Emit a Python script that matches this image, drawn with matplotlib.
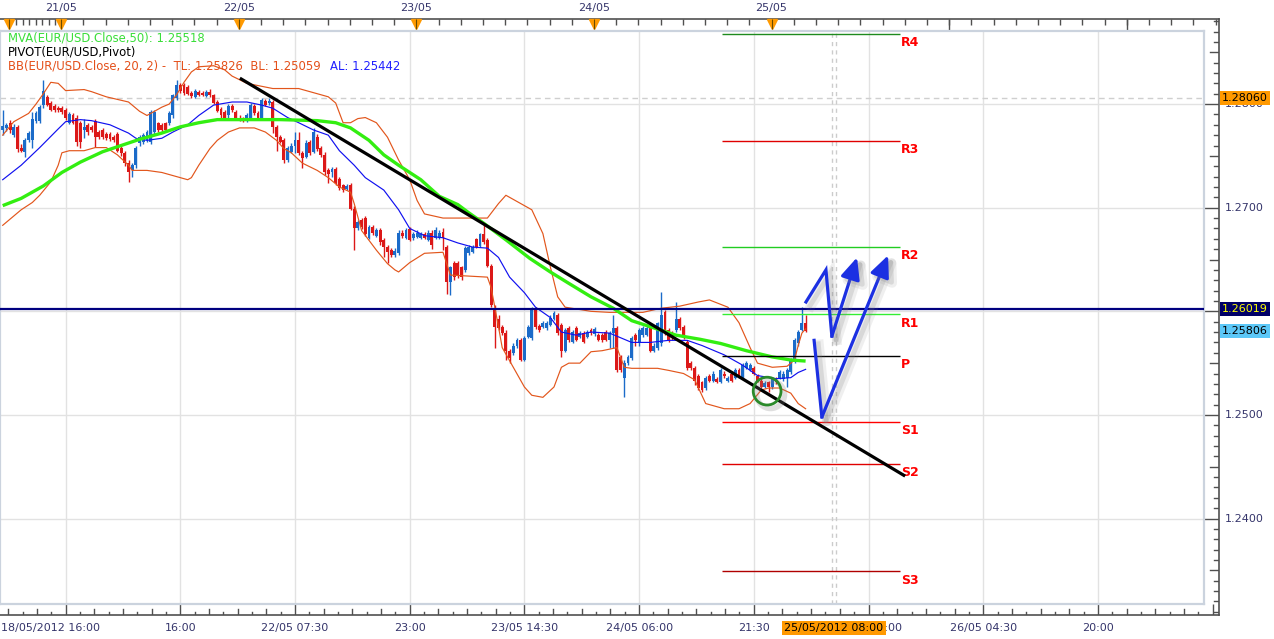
import numpy as np
import matplotlib
matplotlib.use("Agg")
import matplotlib.pyplot as plt
import matplotlib.patheffects as pe

plt.rcParams['font.family'] = ['DejaVu Sans']

# ---------------- data (EUR/USD, 30-minute candles) ----------------
opens = [1.2775, 1.2777, 1.2782, 1.2770, 1.2778, 1.2758, 1.2754, 1.2765, 1.2765, 1.2784,
 1.2784, 1.2799, 1.2807, 1.2801, 1.2798, 1.2796, 1.2796, 1.2794, 1.2782, 1.2789,
 1.2787, 1.2782, 1.2775, 1.2780, 1.2778, 1.2784, 1.2773, 1.2775, 1.2771, 1.2771,
 1.2768, 1.2771, 1.2758, 1.2753, 1.2743, 1.2736, 1.2741, 1.2762, 1.2763, 1.2765,
 1.2763, 1.2773, 1.2782, 1.2780, 1.2782, 1.2782, 1.2789, 1.2806, 1.2818, 1.2818,
 1.2816, 1.2811, 1.2807, 1.2812, 1.2811, 1.2808, 1.2812, 1.2809, 1.2802, 1.2795,
 1.2792, 1.2789, 1.2798, 1.2792, 1.2787, 1.2786, 1.2784, 1.2787, 1.2798, 1.2791,
 1.2786, 1.2803, 1.2801, 1.2802, 1.2778, 1.2768, 1.2765, 1.2746, 1.2754, 1.2760,
 1.2765, 1.2753, 1.2749, 1.2763, 1.2754, 1.2768, 1.2758, 1.2751, 1.2736, 1.2734,
 1.2737, 1.2728, 1.2722, 1.2718, 1.2722, 1.2699, 1.2680, 1.2688, 1.2690, 1.2671,
 1.2681, 1.2673, 1.2678, 1.2669, 1.2662, 1.2659, 1.2654, 1.2656, 1.2676, 1.2671,
 1.2679, 1.2671, 1.2672, 1.2671, 1.2675, 1.2669, 1.2676, 1.2671, 1.2671, 1.2677,
 1.2662, 1.2628, 1.2647, 1.2647, 1.2643, 1.2640, 1.2656, 1.2657, 1.2670, 1.2663,
 1.2675, 1.2669, 1.2644, 1.2601, 1.2593, 1.2585, 1.2579, 1.2562, 1.2560, 1.2567,
 1.2572, 1.2553, 1.2575, 1.2574, 1.2602, 1.2586, 1.2585, 1.2584, 1.2587, 1.2593,
 1.2596, 1.2587, 1.2562, 1.2584, 1.2570, 1.2584, 1.2575, 1.2579, 1.2575, 1.2582,
 1.2578, 1.2577, 1.2577, 1.2580, 1.2572, 1.2579, 1.2584, 1.2556, 1.2536, 1.2550,
 1.2555, 1.2577, 1.2569, 1.2577, 1.2577, 1.2584, 1.2562, 1.2565, 1.2569, 1.2599,
 1.2582, 1.2579, 1.2582, 1.2593, 1.2585, 1.2570, 1.2550, 1.2545, 1.2538, 1.2532,
 1.2526, 1.2538, 1.2533, 1.2535, 1.2532, 1.2540, 1.2533, 1.2540, 1.2536, 1.2543,
 1.2536, 1.2545, 1.2543, 1.2545, 1.2538, 1.2533, 1.2527, 1.2532, 1.2527, 1.2535,
 1.2536, 1.2535, 1.2536, 1.2541, 1.2551, 1.2569, 1.2582, 1.2589]

closes = [1.2779, 1.2780, 1.2775, 1.2778, 1.2757, 1.2755, 1.2765, 1.2772, 1.2786, 1.2791,
 1.2797, 1.2813, 1.2799, 1.2794, 1.2794, 1.2794, 1.2792, 1.2787, 1.2790, 1.2782,
 1.2763, 1.2763, 1.2778, 1.2773, 1.2775, 1.2768, 1.2768, 1.2768, 1.2767, 1.2766,
 1.2765, 1.2755, 1.2753, 1.2743, 1.2734, 1.2741, 1.2758, 1.2768, 1.2770, 1.2773,
 1.2792, 1.2792, 1.2775, 1.2775, 1.2775, 1.2791, 1.2809, 1.2818, 1.2813, 1.2811,
 1.2810, 1.2808, 1.2813, 1.2809, 1.2809, 1.2812, 1.2809, 1.2801, 1.2793, 1.2789,
 1.2787, 1.2798, 1.2794, 1.2787, 1.2785, 1.2784, 1.2789, 1.2799, 1.2791, 1.2786,
 1.2804, 1.2799, 1.2803, 1.2778, 1.2768, 1.2763, 1.2746, 1.2758, 1.2760, 1.2765,
 1.2753, 1.2748, 1.2762, 1.2753, 1.2773, 1.2757, 1.2751, 1.2734, 1.2733, 1.2737,
 1.2724, 1.2719, 1.2717, 1.2721, 1.2699, 1.2680, 1.2686, 1.2681, 1.2675, 1.2681,
 1.2676, 1.2678, 1.2667, 1.2662, 1.2657, 1.2654, 1.2658, 1.2676, 1.2673, 1.2678,
 1.2669, 1.2675, 1.2676, 1.2675, 1.2671, 1.2676, 1.2664, 1.2678, 1.2676, 1.2671,
 1.2628, 1.2643, 1.2633, 1.2635, 1.2633, 1.2661, 1.2662, 1.2662, 1.2662, 1.2675,
 1.2667, 1.2644, 1.2606, 1.2585, 1.2584, 1.2579, 1.2562, 1.2555, 1.2567, 1.2572,
 1.2553, 1.2574, 1.2585, 1.2602, 1.2585, 1.2582, 1.2589, 1.2589, 1.2594, 1.2598,
 1.2579, 1.2562, 1.2582, 1.2572, 1.2580, 1.2572, 1.2579, 1.2570, 1.2580, 1.2579,
 1.2583, 1.2572, 1.2572, 1.2572, 1.2579, 1.2584, 1.2543, 1.2543, 1.2550, 1.2556,
 1.2574, 1.2572, 1.2582, 1.2584, 1.2584, 1.2562, 1.2567, 1.2589, 1.2596, 1.2579,
 1.2572, 1.2574, 1.2593, 1.2584, 1.2575, 1.2545, 1.2545, 1.2533, 1.2526, 1.2524,
 1.2536, 1.2533, 1.2540, 1.2532, 1.2543, 1.2538, 1.2536, 1.2533, 1.2543, 1.2538,
 1.2548, 1.2550, 1.2548, 1.2540, 1.2533, 1.2527, 1.2531, 1.2527, 1.2535, 1.2532,
 1.2541, 1.2540, 1.2543, 1.2553, 1.2572, 1.2580, 1.2589, 1.2581]

highs = [1.2794, 1.2782, 1.2785, 1.2781, 1.2780, 1.2761, 1.2767, 1.2774, 1.2792, 1.2793,
 1.2799, 1.2823, 1.2809, 1.2803, 1.2800, 1.2798, 1.2798, 1.2796, 1.2792, 1.2791,
 1.2789, 1.2784, 1.2786, 1.2782, 1.2780, 1.2786, 1.2775, 1.2777, 1.2773, 1.2773,
 1.2770, 1.2773, 1.2760, 1.2755, 1.2746, 1.2743, 1.2760, 1.2770, 1.2772, 1.2775,
 1.2794, 1.2794, 1.2783, 1.2782, 1.2783, 1.2793, 1.2810, 1.2823, 1.2820, 1.2820,
 1.2818, 1.2813, 1.2815, 1.2814, 1.2813, 1.2814, 1.2815, 1.2810, 1.2804, 1.2797,
 1.2794, 1.2800, 1.2800, 1.2794, 1.2789, 1.2788, 1.2791, 1.2801, 1.2800, 1.2793,
 1.2806, 1.2805, 1.2806, 1.2804, 1.2780, 1.2770, 1.2767, 1.2760, 1.2762, 1.2773,
 1.2773, 1.2755, 1.2765, 1.2765, 1.2777, 1.2771, 1.2760, 1.2754, 1.2738, 1.2739,
 1.2739, 1.2730, 1.2723, 1.2723, 1.2724, 1.2702, 1.2688, 1.2690, 1.2692, 1.2683,
 1.2683, 1.2680, 1.2680, 1.2671, 1.2664, 1.2661, 1.2661, 1.2678, 1.2678, 1.2680,
 1.2681, 1.2677, 1.2678, 1.2677, 1.2677, 1.2678, 1.2678, 1.2681, 1.2678, 1.2680,
 1.2664, 1.2644, 1.2649, 1.2649, 1.2644, 1.2663, 1.2664, 1.2664, 1.2671, 1.2676,
 1.2683, 1.2671, 1.2646, 1.2606, 1.2596, 1.2587, 1.2582, 1.2564, 1.2569, 1.2574,
 1.2574, 1.2576, 1.2587, 1.2604, 1.2604, 1.2588, 1.2591, 1.2591, 1.2596, 1.2600,
 1.2598, 1.2589, 1.2584, 1.2586, 1.2582, 1.2586, 1.2581, 1.2581, 1.2582, 1.2584,
 1.2585, 1.2579, 1.2579, 1.2582, 1.2581, 1.2596, 1.2586, 1.2558, 1.2553, 1.2558,
 1.2576, 1.2579, 1.2584, 1.2586, 1.2586, 1.2586, 1.2569, 1.2590, 1.2619, 1.2601,
 1.2584, 1.2581, 1.2609, 1.2595, 1.2587, 1.2572, 1.2552, 1.2547, 1.2540, 1.2533,
 1.2538, 1.2540, 1.2542, 1.2537, 1.2545, 1.2542, 1.2538, 1.2542, 1.2545, 1.2545,
 1.2550, 1.2552, 1.2550, 1.2547, 1.2540, 1.2535, 1.2533, 1.2533, 1.2537, 1.2537,
 1.2543, 1.2542, 1.2545, 1.2555, 1.2574, 1.2582, 1.2604, 1.2596]

lows = [1.2770, 1.2774, 1.2772, 1.2768, 1.2754, 1.2754, 1.2749, 1.2763, 1.2758, 1.2782,
 1.2782, 1.2796, 1.2798, 1.2793, 1.2792, 1.2792, 1.2790, 1.2785, 1.2781, 1.2781,
 1.2760, 1.2758, 1.2767, 1.2770, 1.2773, 1.2759, 1.2766, 1.2766, 1.2765, 1.2764,
 1.2763, 1.2754, 1.2750, 1.2740, 1.2725, 1.2730, 1.2738, 1.2760, 1.2761, 1.2763,
 1.2761, 1.2771, 1.2773, 1.2773, 1.2773, 1.2780, 1.2787, 1.2804, 1.2811, 1.2809,
 1.2809, 1.2806, 1.2806, 1.2808, 1.2808, 1.2807, 1.2807, 1.2800, 1.2792, 1.2787,
 1.2786, 1.2787, 1.2792, 1.2786, 1.2784, 1.2783, 1.2783, 1.2786, 1.2789, 1.2785,
 1.2785, 1.2798, 1.2799, 1.2772, 1.2755, 1.2762, 1.2743, 1.2744, 1.2753, 1.2753,
 1.2751, 1.2738, 1.2748, 1.2751, 1.2753, 1.2755, 1.2749, 1.2732, 1.2724, 1.2730,
 1.2722, 1.2717, 1.2715, 1.2717, 1.2698, 1.2659, 1.2678, 1.2679, 1.2673, 1.2670,
 1.2674, 1.2672, 1.2664, 1.2652, 1.2647, 1.2652, 1.2652, 1.2654, 1.2671, 1.2670,
 1.2668, 1.2669, 1.2671, 1.2670, 1.2670, 1.2668, 1.2660, 1.2670, 1.2670, 1.2659,
 1.2617, 1.2616, 1.2630, 1.2632, 1.2630, 1.2638, 1.2654, 1.2656, 1.2661, 1.2662,
 1.2665, 1.2643, 1.2604, 1.2565, 1.2582, 1.2577, 1.2553, 1.2550, 1.2558, 1.2565,
 1.2552, 1.2552, 1.2574, 1.2572, 1.2583, 1.2580, 1.2584, 1.2582, 1.2586, 1.2592,
 1.2577, 1.2556, 1.2561, 1.2570, 1.2569, 1.2571, 1.2574, 1.2569, 1.2574, 1.2577,
 1.2576, 1.2571, 1.2570, 1.2571, 1.2565, 1.2565, 1.2541, 1.2541, 1.2517, 1.2548,
 1.2553, 1.2567, 1.2567, 1.2575, 1.2576, 1.2561, 1.2561, 1.2563, 1.2567, 1.2577,
 1.2570, 1.2572, 1.2580, 1.2582, 1.2573, 1.2543, 1.2543, 1.2529, 1.2524, 1.2522,
 1.2524, 1.2532, 1.2532, 1.2531, 1.2531, 1.2536, 1.2532, 1.2532, 1.2535, 1.2536,
 1.2535, 1.2544, 1.2542, 1.2539, 1.2532, 1.2526, 1.2526, 1.2522, 1.2525, 1.2530,
 1.2535, 1.2533, 1.2527, 1.2540, 1.2550, 1.2567, 1.2581, 1.2580]

# moving average (50) read at candle positions
ma_x = [0, 5, 11, 16, 21, 27, 32, 37, 43, 48, 53, 58, 65, 75, 85, 90, 94, 99, 103, 107,
        113, 118, 123, 126, 130, 136, 142.5, 148, 153, 159, 165, 170, 176, 182, 188.5, 194,
        201, 208, 213, 217]
ma_v = [1.2702, 1.2709, 1.2721, 1.2734, 1.2744, 1.2754, 1.2760, 1.2766, 1.2772, 1.2778,
        1.2782, 1.2785, 1.2785, 1.2785, 1.2784, 1.2782, 1.2777, 1.2765, 1.2751, 1.2741,
        1.2727, 1.2711, 1.2703, 1.2695, 1.2685, 1.2669, 1.2651, 1.2638, 1.2627, 1.2614,
        1.2603, 1.2591, 1.2584, 1.2577, 1.2573, 1.2569, 1.2562, 1.2556, 1.2553, 1.2552]

# Bollinger middle / upper / lower read at candle positions
bbm_x = [0, 5, 10, 15, 17, 21, 24, 29, 34, 36, 39, 43, 46, 50, 53, 57, 62, 66, 70, 73,
         77, 80, 84, 88, 91, 95, 98, 103, 107, 110, 114, 119, 123, 127, 131, 134, 137, 141,
         144, 148, 151, 155, 159, 164, 170, 175, 180, 185, 189, 195, 200, 204, 209, 213, 215, 217]
bbm_v = [1.2727, 1.2741, 1.2758, 1.2776, 1.2783, 1.2785, 1.2784, 1.2780, 1.2772, 1.2767,
         1.2765, 1.2767, 1.2773, 1.2780, 1.2789, 1.2799, 1.2802, 1.2802, 1.2799, 1.2796,
         1.2787, 1.2782, 1.2775, 1.2770, 1.2755, 1.2741, 1.2729, 1.2717, 1.2698, 1.2680,
         1.2673, 1.2671, 1.2666, 1.2662, 1.2661, 1.2652, 1.2633, 1.2618, 1.2604, 1.2594,
         1.2580, 1.2577, 1.2580, 1.2579, 1.2570, 1.2570, 1.2572, 1.2572, 1.2567, 1.2558,
         1.2548, 1.2538, 1.2535, 1.2536, 1.2541, 1.2544]

bbu_x = [0, 3, 7, 9, 11, 13, 15, 17, 22, 24, 28, 34, 37, 39, 43, 45, 47, 49, 51, 53,
         57, 60, 62, 66, 73, 80, 85, 88, 90, 92, 94, 96, 98, 101, 104, 107, 110, 112, 114, 119,
         131, 134, 136, 138, 143, 146, 148, 150, 152, 159, 164, 173, 178, 183, 188, 191, 196,
         199, 202, 204, 208, 212, 214, 215, 216, 217]
bbu_v = [1.2770, 1.2783, 1.2791, 1.2800, 1.2810, 1.2821, 1.2820, 1.2813, 1.2814, 1.2812,
         1.2807, 1.2802, 1.2793, 1.2789, 1.2797, 1.2800, 1.2809, 1.2821, 1.2831, 1.2836,
         1.2837, 1.2833, 1.2827, 1.2820, 1.2815, 1.2815, 1.2810, 1.2807, 1.2801, 1.2782,
         1.2782, 1.2786, 1.2787, 1.2782, 1.2768, 1.2746, 1.2727, 1.2707, 1.2694, 1.2690,
         1.2690, 1.2704, 1.2712, 1.2708, 1.2698, 1.2675, 1.2643, 1.2614, 1.2604, 1.2600,
         1.2599, 1.2599, 1.2603, 1.2605, 1.2609, 1.2611, 1.2604, 1.2589, 1.2565, 1.2550,
         1.2546, 1.2547, 1.2553, 1.2567, 1.2579, 1.2583]

bbl_x = [0, 5, 8, 10, 13, 15, 16, 18, 22, 25, 28, 31, 34, 35, 39, 43, 46, 50, 51, 53,
         56, 58, 61, 64, 68, 71, 74, 76, 78, 81, 85, 88, 91, 94, 95, 97, 101, 104, 106, 107,
         110, 114, 119, 121, 131, 132, 134, 135, 138, 141, 143, 146, 149, 151, 153, 156, 159,
         162, 166, 168, 170, 177, 180, 184, 187, 190, 195, 199, 202, 205, 207, 210, 213, 215, 217]
bbl_v = [1.2683, 1.2698, 1.2705, 1.2712, 1.2725, 1.2741, 1.2753, 1.2755, 1.2755, 1.2758,
         1.2758, 1.2751, 1.2741, 1.2736, 1.2736, 1.2734, 1.2731, 1.2727, 1.2729, 1.2741,
         1.2757, 1.2765, 1.2773, 1.2777, 1.2777, 1.2773, 1.2765, 1.2757, 1.2753, 1.2743,
         1.2736, 1.2729, 1.2720, 1.2715, 1.2704, 1.2678, 1.2659, 1.2646, 1.2640, 1.2638,
         1.2647, 1.2656, 1.2657, 1.2635, 1.2633, 1.2623, 1.2585, 1.2565, 1.2546, 1.2527,
         1.2519, 1.2517, 1.2527, 1.2546, 1.2550, 1.2550, 1.2561, 1.2562, 1.2565, 1.2546,
         1.2545, 1.2545, 1.2543, 1.2540, 1.2534, 1.2511, 1.2506, 1.2506, 1.2511, 1.2524,
         1.2526, 1.2526, 1.2521, 1.2511, 1.2506]

# last indicator values shown in the legend
ma_last, bb_top, bb_bot, bb_avg = 1.25518, 1.25826, 1.25059, 1.25442

# pivot levels
pivot_names = ["R4", "R3", "R2", "R1", "P", "S1", "S2", "S3"]
pivot_levels = [1.2868, 1.2764, 1.2662, 1.2597, 1.2557, 1.2493, 1.2453, 1.2349]
pivot_colors = ["#1e8a1e", "#e00000", "#22cc22", "#33ee33", "#000000", "#ff0000", "#e00000", "#b00000"]
pivot_start, pivot_end = 194.5, 242.5

# drawn trend line (two anchor points: candle index, price)
trend_x = [64.1, 243.9]
trend_y = [1.2825, 1.2441]

# forecast arrows (candle index, price)
arrow1_x = [217.1, 222.5, 224.1, 230.9]
arrow1_y = [1.2609, 1.2640, 1.2576, 1.2652]
arrow2_x = [219.3, 221.4, 239.3]
arrow2_y = [1.2572, 1.2498, 1.2654]
circle_x, circle_y = 206.6, 1.2523

resistance = 1.26019
last_price = 1.25806
marked_high = 1.28060
cursor_pos = 224.6
cursor_label = "25/05/2012 08:00"

# axis labels
day_pos = [15.8, 63.8, 111.8, 159.8, 207.8]
day_labels = ["21/05", "22/05", "23/05", "24/05", "25/05"]
first_label = "18/05/2012 16:00"
bottom_pos = [17, 48, 79, 110, 141, 172, 203, 234, 265, 296, 327]
bottom_labels = ["", "16:00", "22/05 07:30", "23:00", "23/05 14:30", "24/05 06:00",
                 "21:30", "25/05 13:00", "26/05 04:30", "20:00", ""]
price_ticks = [1.24, 1.25, 1.26, 1.27, 1.28]

# ---------------- layout ----------------
W, H = 1274, 639
fig = plt.figure(figsize=(W / 100, H / 100), dpi=100)
fig.patch.set_facecolor("white")

X0, DX = 2.7, 3.7                     # pixel of candle 0, pixels per candle
Y_REF, P_REF, DP = 207.7, 1.27, 0.0000965   # pixel of 1.2700, price per pixel


def px_rect(l, t, r, b):
    return [l / W, 1 - b / H, (r - l) / W, (b - t) / H]


def xlim_for(l, r):
    return ((l - X0) / DX, (r - X0) / DX)


def ylim_for(t, b):
    return (P_REF - (b - Y_REF) * DP, P_REF - (t - Y_REF) * DP)


OL, OT, OR, OB = 0, 19, 1219, 615
IL, IT, IR, IB = 0, 31, 1204, 604
OW, OH = OR - OL, OB - OT

axo = fig.add_axes(px_rect(OL, OT, OR, OB))
axo.set_xlim(*xlim_for(OL, OR))
axo.set_ylim(*ylim_for(OT, OB))
axo.set_xticks([])
axo.set_yticks([])
axo.spines["left"].set_visible(False)
for s in ["top", "right", "bottom"]:
    axo.spines[s].set_color("#505050")
    axo.spines[s].set_linewidth(1.2)

ax = fig.add_axes(px_rect(IL, IT, IR, IB), facecolor="none")
ax.set_xlim(*xlim_for(IL, IR))
ax.set_ylim(*ylim_for(IT, IB))
ax.set_xticks([])
ax.set_yticks([])
for s in ax.spines.values():
    s.set_color("#cbd3de")
    s.set_linewidth(1.6)

TXT = "#35356b"
FS = 8.0
FSL = 8.4

# ---------------- grid ----------------
ylo, yhi = ax.get_ylim()
xlo, xhi = ax.get_xlim()
ax.vlines(bottom_pos, ylo, yhi, colors="#e2e2e2", lw=1, zorder=0.5)
ax.hlines(price_ticks, xlo, xhi, colors="#e2e2e2", lw=1, zorder=0.5)
ax.axhline(marked_high, color="#cfcfcf", lw=1, ls=(0, (4, 3)), zorder=0.6)
for dx in (-0.5, 0.5):
    ax.axvline(cursor_pos + dx, color="#cccccc", lw=1, ls=(0, (3, 3)), zorder=0.6)

# ---------------- candles ----------------
o = np.array(opens); c = np.array(closes); h = np.array(highs); l = np.array(lows)
x = np.arange(len(c))
BLUE, RED = "#1b6bc9", "#dc1818"
col = np.where(c >= o, BLUE, RED)
ax.vlines(x, l, h, colors=col, lw=1.0, zorder=2)
ax.bar(x, np.maximum(np.abs(c - o), 0.0001), bottom=np.minimum(o, c), width=0.8,
       color=col, linewidth=0, zorder=2.1)

# ---------------- indicators ----------------
ax.plot(bbu_x, bbu_v, color="#e2561c", lw=0.85, zorder=3)
ax.plot(bbl_x, bbl_v, color="#e2561c", lw=0.85, zorder=3)
ax.plot(bbm_x, bbm_v, color="#1010f0", lw=0.85, zorder=3.2)
ax.plot(ma_x, ma_v, color="#33ee11", lw=2.4, zorder=3.5, solid_capstyle="butt")

# pivots
ax.hlines(pivot_levels, pivot_start, pivot_end, colors=pivot_colors, lw=1.0, zorder=4)
for name, lev in zip(pivot_names, pivot_levels):
    ax.annotate(name, (pivot_end, lev), xytext=(1, -1.5), textcoords="offset points",
                ha="left", va="top", color="#ff0000", fontsize=9, fontweight="bold",
                zorder=6, annotation_clip=False)

# resistance line
ax.axhline(resistance, color="#000080", lw=1.6, zorder=5)

# trend line
ax.plot(trend_x, trend_y, color="black", lw=2.3, zorder=6, solid_capstyle="butt")

# forecast arrows with soft shadow
ARW = "#1c30e2"
shadow = [pe.SimpleLineShadow(offset=(3.5, -3), shadow_color="#808080", alpha=0.12, linewidth=7),
          pe.SimpleLineShadow(offset=(3, -2.5), shadow_color="#808080", alpha=0.2, linewidth=3.5),
          pe.Normal()]
for xs, ys in [(arrow1_x, arrow1_y), (arrow2_x, arrow2_y)]:
    ax.plot(xs[:-1], ys[:-1], color=ARW, lw=2.3, zorder=7, solid_joinstyle="miter",
            path_effects=shadow)
    ax.annotate("", xy=(xs[-1], ys[-1]), xytext=(xs[-2], ys[-2]),
                arrowprops=dict(arrowstyle="-|>,head_length=1.0,head_width=0.45", color=ARW,
                                lw=2.3, mutation_scale=13, shrinkA=0, shrinkB=0,
                                path_effects=shadow), zorder=7)

ax.plot([circle_x], [circle_y], marker="o", ms=20, mfc="none", mec="#2a8a2a", mew=2.0, zorder=7,
        path_effects=[pe.SimpleLineShadow(offset=(2.5, -2.5), shadow_color="#808080",
                                          alpha=0.25, linewidth=4), pe.Normal()])

# ---------------- outer axis: ticks and labels ----------------
tx = axo.get_xaxis_transform()
ty = axo.get_yaxis_transform()

# top axis
early_ticks = [1.7, 3.6, 5.5, 7.2, 8.9, 10.6, 12.4, 14.1]
top_ticks = early_ticks + [day_pos[0] + 6 * k for k in range(1, 53)]
axo.vlines(top_ticks, 1 - 6 / OH, 1, transform=tx, colors="#505050", lw=1)
axo.vlines([day_pos[-1] + 48, day_pos[-1] + 96], 1 - 12 / OH, 1, transform=tx,
           colors="#505050", lw=1)
tri_pos = [1.7] + day_pos
axo.plot(tri_pos, [1 - 5 / OH] * len(tri_pos), "v", transform=tx, ms=7.5,
         color="#ff9a00", mec="#ff9a00", clip_on=False, zorder=5)
axo.vlines(tri_pos, 1 - 10 / OH, 1, transform=tx, colors="#6a4a00", lw=0.8, zorder=6)
for p, lab in zip(day_pos, day_labels):
    axo.text(p, 1 + 11 / OH, lab, transform=tx, ha="center", va="center",
             fontsize=FS, color=TXT, clip_on=False)

# bottom axis
step = 31 / 8
axo.vlines(bottom_pos, 0, 11 / OH, transform=tx, colors="#505050", lw=1)
minor = []
minor_len = []
for b in [-14] + bottom_pos:
    for j in range(1, 8):
        minor.append(b + j * step)
        minor_len.append(6 if j % 2 == 0 else 3)
for m, ln in zip(minor, minor_len):
    if axo.get_xlim()[0] < m < axo.get_xlim()[1]:
        axo.plot([m, m], [0, ln / OH], transform=tx, color="#505050", lw=1)
for p, lab in zip(bottom_pos, bottom_labels):
    if lab:
        axo.text(p, -13 / OH, lab, transform=tx, ha="center", va="center",
                 fontsize=FS, color=TXT, clip_on=False)
axo.text(0.001, -13 / OH, first_label, transform=axo.transAxes, ha="left", va="center",
         fontsize=FS, color=TXT, clip_on=False)
axo.text(cursor_pos, -13 / OH, cursor_label, transform=tx, ha="center", va="center",
         fontsize=FS, color="black", clip_on=False, zorder=10,
         bbox=dict(boxstyle="square,pad=0.2", fc="#ff9900", ec="none"))

# right axis
ymin, ymax = axo.get_ylim()
fine = np.arange(np.ceil(ymin * 1000) / 1000, ymax, 0.001)
for v in fine:
    k = int(round(v * 1000))
    if k % 10 == 0:
        ln = 14
    elif k % 5 == 0:
        ln = 9
    else:
        ln = 5
    axo.plot([1 - ln / OW, 1], [v, v], transform=ty, color="#505050", lw=1)
for p in price_ticks:
    if abs(p - resistance) < 0.0005:
        continue          # hidden behind the resistance value box
    axo.text(1 + 6 / OW, p, f"{p:.4f}", transform=ty, ha="left", va="center",
             fontsize=FS, color=TXT, clip_on=False)


def value_box(val, fc, tc):
    axo.text(1 + 3 / OW, val, f"{val:.5f}", transform=ty, ha="left", va="center",
             fontsize=FS, color=tc, clip_on=False, zorder=10,
             bbox=dict(boxstyle="square,pad=0.18", fc=fc, ec="none"))


value_box(marked_high, "#ff9900", "black")
value_box(resistance, "#000066", "#ffff00")
value_box(last_price, "#5cc8f8", "black")

# ---------------- legend text ----------------
fig.text(8 / W, 1 - 38 / H, f"MVA(EUR/USD.Close,50): {ma_last:.5f}", color="#3ade3a",
         fontsize=FSL, va="center", ha="left")
fig.text(8 / W, 1 - 52 / H, "PIVOT(EUR/USD,Pivot)", color="black", fontsize=FSL,
         va="center", ha="left")
t_bb = fig.text(8 / W, 1 - 66 / H,
                f"BB(EUR/USD.Close, 20, 2) -  TL: {bb_top:.5f}  BL: {bb_bot:.5f}",
                color="#e4501a", fontsize=FSL, va="center", ha="left")
fig.canvas.draw()
bb = t_bb.get_window_extent(fig.canvas.get_renderer())
fig.text((bb.x1 + 9) / W, 1 - 66 / H, f"AL: {bb_avg:.5f}", color="#2020ff",
         fontsize=FSL, va="center", ha="left")

fig.savefig("out.png", dpi=100, facecolor="white")
